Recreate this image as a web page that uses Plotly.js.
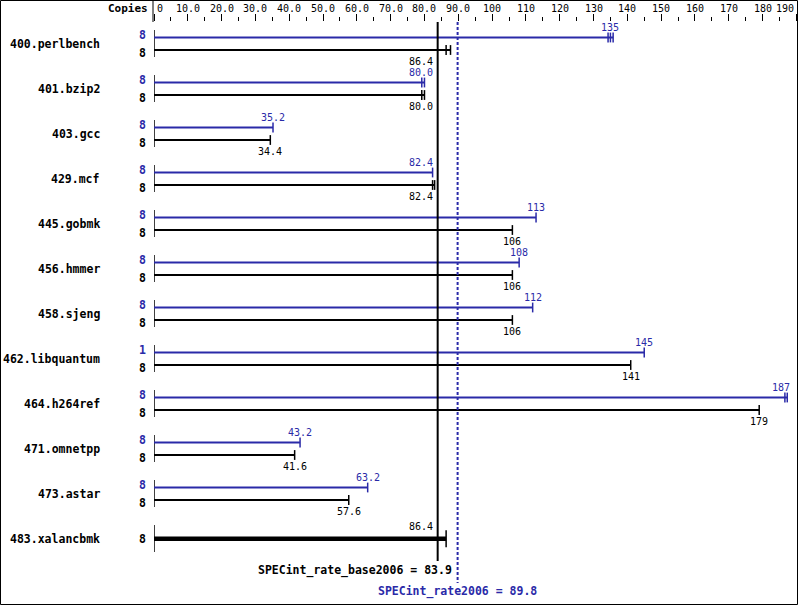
<!DOCTYPE html>
<html>
<head>
<meta charset="utf-8">
<script src="https://cdn.plot.ly/plotly-3.0.1.min.js"></script>
<style>
html,body{margin:0;padding:0;background:#fff;}
#chart{width:799px;height:606px;}
</style>
</head>
<body>
<div id="chart"></div>
<script>
const benchmarks = ['400.perlbench','401.bzip2','403.gcc','429.mcf','445.gobmk','456.hmmer','458.sjeng','462.libquantum','464.h264ref','471.omnetpp','473.astar','483.xalancbmk'];
const peakCopies = [8,8,8,8,8,8,8,1,8,8,8,null];
const baseCopies = [8,8,8,8,8,8,8,8,8,8,8,8];
const peakRatio = [135,80.0,35.2,82.4,113,108,112,145,187,43.2,63.2,null];
const baseRatio = [86.4,80.0,34.4,82.4,106,106,106,141,179,41.6,57.6,86.4];
const peakRuns = [[134.3,135,135.8],[79.2,80.0],[35.2],[82.4],[113],[108],[112],[145],[186.6,187.3],[43.2],[63.2],[]];
const baseRuns = [[86.4,87.7],[79.2,80.0],[34.4],[82.4,83.0],[106],[106],[106],[141],[179],[41.6],[57.6],[86.4]];
const baseMean = 83.9;
const peakMean = 89.8;
const tickVals = [0,10,20,30,40,50,60,70,80,90,100,110,120,130,140,150,160,170,180,190];
const tickText = ['0','10.0','20.0','30.0','40.0','50.0','60.0','70.0','80.0','90.0','100','110','120','130','140','150','160','170','180','190'];

const BLUE = '#2a2aa8';
const BLACK = '#000000';
const MONO = 'DejaVu Sans Mono, Liberation Mono, monospace';
const W = 799, H = 606, ML = 154, MR = 2, MT = 22, MB = 0;
const PW = W - ML - MR, PH = H - MT - MB;
const ROW = 45;
const yTop = -(43.75 - MT) / ROW;
const yBot = yTop + PH / ROW;
const off = 6.25 / ROW;
const px = p => (p - 43.75) / ROW;   // pixel-to-row helper for guide lines
const fmt = v => v >= 100 ? v.toFixed(0) : v.toFixed(1);

const traces = [];
const shapes = [];
const ann = [];

benchmarks.forEach((name, k) => {
  const hasPeak = peakRatio[k] !== null;
  const yp = k - off;
  const yb = hasPeak ? k + off : k;
  shapes.push({type:'line', xref:'x', yref:'y', x0:0, x1:0, y0:k - 13.75/ROW, y1:k + 13.25/ROW, line:{color:BLACK, width:1.5}, layer:'below'});
  ann.push({xref:'paper', yref:'y', x:(101 - ML)/PW, y:k, xanchor:'right', borderpad:0, text:name, showarrow:false, font:{family:MONO, size:11.5, color:BLACK, weight:'bold'}});
  if (hasPeak) {
    const pmax = Math.max(...peakRuns[k]);
    traces.push({x:[0, pmax], y:[yp, yp], mode:'lines', line:{color:BLUE, width:2}, hoverinfo:'skip'});
    traces.push({x:peakRuns[k], y:peakRuns[k].map(() => yp), mode:'markers', marker:{symbol:'line-ns', size:7, line:{color:BLUE, width:1.5}}, hoverinfo:'skip'});
    ann.push({xref:'paper', yref:'y', x:(138 - ML)/PW, y:yp, yshift:2.5, borderpad:0, text:String(peakCopies[k]), showarrow:false, font:{family:MONO, size:11.5, color:BLUE, weight:'bold'}});
    const v = peakRatio[k];
    let xa = 'center', xv = v, xs = 0;
    if (v > baseMean - 5 && v < baseMean + 5) { xa = 'right'; xv = baseMean; xs = -4; }
    else if (v > 185) { xa = 'right'; xs = 5; }
    ann.push({xref:'x', yref:'y', x:xv, y:yp, xanchor:xa, xshift:xs, yshift:10.5, borderpad:0, text:fmt(v), showarrow:false, font:{family:MONO, size:10, color:BLUE}});
  }
  const bmax = Math.max(...baseRuns[k]);
  const thick = !hasPeak;
  traces.push({x:[0, bmax], y:[yb, yb], mode:'lines', line:{color:BLACK, width:thick ? 4.5 : 2}, hoverinfo:'skip'});
  traces.push({x:baseRuns[k], y:baseRuns[k].map(() => yb), mode:'markers', marker:{symbol:'line-ns', size:thick ? 12 : 7, line:{color:BLACK, width:1.5}}, hoverinfo:'skip'});
  ann.push({xref:'paper', yref:'y', x:(138 - ML)/PW, y:yb, yshift:hasPeak ? -3 : 0, borderpad:0, text:String(baseCopies[k]), showarrow:false, font:{family:MONO, size:11.5, color:BLACK, weight:'bold'}});
  const v = baseRatio[k];
  let xa = 'center', xv = v, xs = 0;
  if (v > baseMean - 5 && v < baseMean + 5) { xa = 'right'; xv = baseMean; xs = -4; }
  else if (v > 185) { xa = 'right'; xs = 5; }
  ann.push({xref:'x', yref:'y', x:xv, y:yb, xanchor:xa, xshift:xs, yshift:hasPeak ? -11.5 : 12, borderpad:0, text:fmt(v), showarrow:false, font:{family:MONO, size:10, color:BLACK}});
});

shapes.push({type:'line', xref:'x', yref:'y', x0:baseMean, x1:baseMean, y0:yTop, y1:px(561), line:{color:BLACK, width:2}});
shapes.push({type:'line', xref:'x', yref:'y', x0:peakMean, x1:peakMean, y0:yTop, y1:px(583), line:{color:BLUE, width:2, dash:'3px,2px'}});
ann.push({xref:'x', yref:'y', x:baseMean, y:px(570), xanchor:'right', xshift:15, borderpad:0, text:'SPECint_rate_base2006 = ' + baseMean.toFixed(1), showarrow:false, font:{family:MONO, size:11.5, color:BLACK, weight:'bold'}});
ann.push({xref:'x', yref:'y', x:peakMean, y:px(591.7), xanchor:'center', borderpad:0, text:'SPECint_rate2006 = ' + peakMean.toFixed(1), showarrow:false, font:{family:MONO, size:11.5, color:BLUE, weight:'bold'}});

tickVals.forEach((t, i) => {
  let xa = 'center', xs = 0;
  if (i === 0) { xa = 'left'; xs = 2; }
  if (i === tickVals.length - 1) { xa = 'right'; xs = -1; }
  ann.push({xref:'x', yref:'paper', x:t, y:(H - 8 - MB)/PH, xanchor:xa, xshift:xs, yanchor:'middle', borderpad:0, text:tickText[i], showarrow:false, font:{family:MONO, size:10, color:BLACK}});
});
ann.push({xref:'paper', yref:'paper', x:(149 - ML)/PW, y:(H - 8 - MB)/PH, xanchor:'right', yanchor:'middle', borderpad:0, text:'Copies', showarrow:false, font:{family:MONO, size:11, color:BLACK, weight:'bold'}});

shapes.push({type:'line', xref:'paper', yref:'paper', x0:-1/PW, x1:-1/PW, y0:1, y1:H/PH, line:{color:BLACK, width:1}});
shapes.push({type:'rect', xref:'paper', yref:'paper', x0:(0.5 - ML)/PW, x1:(797.5 - ML)/PW, y0:(H - 604.5 - MB)/PH, y1:(H - 0.5 - MB)/PH, line:{color:BLACK, width:1}, fillcolor:'rgba(0,0,0,0)'});

const layout = {
  width:W, height:H,
  margin:{l:ML, r:MR, t:MT, b:MB, pad:0},
  paper_bgcolor:'#ffffff', plot_bgcolor:'#ffffff',
  showlegend:false,
  xaxis:{range:[0, PW/3.381], side:'top', showgrid:false, zeroline:false, showline:false,
         tickmode:'array', tickvals:tickVals, showticklabels:false,
         ticks:'outside', ticklen:7, tickwidth:1, tickcolor:BLACK,
         minor:{dtick:5, tick0:0, ticks:'outside', ticklen:4, tickwidth:1, tickcolor:BLACK, showgrid:false},
         fixedrange:true},
  yaxis:{range:[yBot, yTop], visible:false, fixedrange:true},
  shapes:shapes,
  annotations:ann
};
Plotly.newPlot('chart', traces, layout, {staticPlot:true, displayModeBar:false});
</script>
</body>
</html>
